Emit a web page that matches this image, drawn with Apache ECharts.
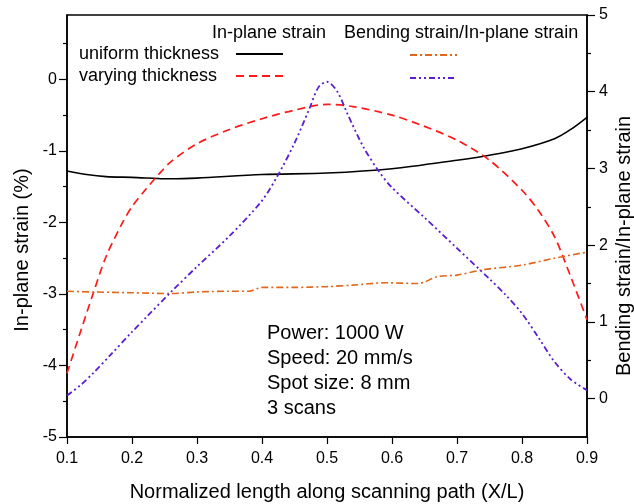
<!DOCTYPE html>
<html>
<head>
<meta charset="utf-8">
<title>In-plane strain and bending ratio along the scanning path</title>
<script src="https://cdn.jsdelivr.net/npm/echarts@6/dist/echarts.min.js"></script>
<style>
  html, body { margin: 0; padding: 0; background: #fff; }
  #chart { width: 634px; height: 504px; }
</style>
</head>
<body>
<div id="chart"></div>
<script>
// Tick positions for the three axes
const xTicks = [0.1, 0.2, 0.3, 0.4, 0.5, 0.6, 0.7, 0.8, 0.9];
const leftTicks = [-5, -4, -3, -2, -1, 0];
const leftMinorTicks = [-4.5, -3.5, -2.5, -1.5, -0.5, 0.5];
const rightTicks = [0, 1, 2, 3, 4, 5];
const rightMinorTicks = [0.5, 1.5, 2.5, 3.5, 4.5];

// In-plane strain (%), uniform thickness
const uniformX = [0.10, 0.13, 0.16, 0.20, 0.26, 0.30, 0.40, 0.50, 0.60, 0.70, 0.75, 0.80, 0.85, 0.875, 0.90];
const uniformY = [-1.28, -1.33, -1.36, -1.37, -1.39, -1.38, -1.33, -1.31, -1.25, -1.13, -1.06, -0.97, -0.83, -0.70, -0.53];

// In-plane strain (%), varying thickness
const varyingX = [0.10, 0.12, 0.14, 0.16, 0.185, 0.20, 0.22, 0.24, 0.26, 0.30, 0.35, 0.40, 0.45, 0.50, 0.54, 0.60, 0.645, 0.70, 0.75, 0.80, 0.825, 0.85, 0.875, 0.90];
const varyingY = [-4.11, -3.55, -3.00, -2.48, -2.01, -1.78, -1.55, -1.34, -1.15, -0.90, -0.70, -0.55, -0.43, -0.35, -0.38, -0.50, -0.64, -0.85, -1.13, -1.55, -1.83, -2.20, -2.76, -3.36];

// Bending strain / in-plane strain, uniform thickness
const ratioUniformX = [0.10, 0.14, 0.20, 0.26, 0.30, 0.35, 0.38, 0.40, 0.45, 0.50, 0.54, 0.59, 0.64, 0.67, 0.70, 0.74, 0.80, 0.85, 0.90];
const ratioUniformY = [1.40, 1.39, 1.38, 1.37, 1.39, 1.40, 1.40, 1.45, 1.45, 1.46, 1.48, 1.51, 1.50, 1.59, 1.61, 1.68, 1.74, 1.83, 1.91];

// Bending strain / in-plane strain, varying thickness
const ratioVaryingX = [0.10, 0.12, 0.14, 0.167, 0.20, 0.223, 0.26, 0.30, 0.35, 0.40, 0.425, 0.45, 0.472, 0.487, 0.50, 0.516, 0.531, 0.556, 0.58, 0.60, 0.65, 0.70, 0.75, 0.775, 0.80, 0.825, 0.85, 0.875, 0.90];
const ratioVaryingY = [0.04, 0.17, 0.33, 0.57, 0.87, 1.07, 1.39, 1.72, 2.12, 2.58, 2.92, 3.33, 3.76, 4.06, 4.13, 4.00, 3.72, 3.28, 2.96, 2.75, 2.36, 1.96, 1.56, 1.35, 1.11, 0.80, 0.48, 0.25, 0.11];

const conditions = ['Power: 1000 W', 'Speed: 20 mm/s', 'Spot size: 8 mm', '3 scans'];

const FONT = '"Liberation Sans", Arial, Helvetica, sans-serif';
const pairs = (xs, ys) => xs.map((x, i) => [x, ys[i]]);

const chart = echarts.init(document.getElementById('chart'), null, { renderer: 'canvas' });

const axisLine = { show: true, onZero: false, lineStyle: { color: '#000', width: 1.5 } };
// legend samples show the dashed line only, no marker
const legendSample = { itemWidth: 47, itemHeight: 14, padding: 0, selectedMode: false, itemStyle: { opacity: 0 } };

const option = {
  backgroundColor: '#fff',
  animation: false,
  textStyle: { fontFamily: FONT, color: '#000' },
  grid: {
    left: 67, right: 47, top: 15, bottom: 67,
    outerBoundsMode: 'none', containLabel: false,
    show: true, borderColor: '#000', borderWidth: 1.5, backgroundColor: 'transparent'
  },
  xAxis: {
    type: 'value', min: 0.1, max: 0.9,
    axisLine: axisLine,
    axisTick: { show: true, inside: false, length: 7, lineStyle: { color: '#000', width: 1.2 }, customValues: xTicks },
    axisLabel: {
      customValues: xTicks, margin: 14, fontSize: 16, color: '#000', fontFamily: FONT,
      formatter: v => v.toFixed(1)
    },
    splitLine: { show: false },
    name: 'Normalized length along scanning path (X/L)',
    nameLocation: 'middle', nameGap: 45,
    nameTextStyle: { fontSize: 20, color: '#000', fontFamily: FONT }
  },
  yAxis: [
    {
      type: 'value', position: 'left', min: -5, max: 0.9,
      axisLine: axisLine,
      axisTick: { show: true, inside: false, length: 8, lineStyle: { color: '#000', width: 1.2 }, customValues: leftTicks },
      axisLabel: { customValues: leftTicks, margin: 10, fontSize: 16, color: '#000', fontFamily: FONT },
      splitLine: { show: false }
    },
    {
      type: 'value', position: 'right', min: -0.5, max: 5,
      axisLine: axisLine,
      axisTick: { show: true, inside: false, length: 8, lineStyle: { color: '#000', width: 1.2 }, customValues: rightTicks },
      axisLabel: { customValues: rightTicks, margin: 12, fontSize: 16, color: '#000', fontFamily: FONT },
      splitLine: { show: false }
    },
    {
      // minor ticks on the left axis
      type: 'value', position: 'left', min: -5, max: 0.9,
      axisLine: { show: false, onZero: false },
      axisTick: { show: true, inside: false, length: 4, lineStyle: { color: '#000', width: 1.2 }, customValues: leftMinorTicks },
      axisLabel: { show: false },
      splitLine: { show: false }
    },
    {
      // minor ticks on the right axis
      type: 'value', position: 'right', min: -0.5, max: 5,
      axisLine: { show: false, onZero: false },
      axisTick: { show: true, inside: false, length: 4, lineStyle: { color: '#000', width: 1.2 }, customValues: rightMinorTicks },
      axisLabel: { show: false },
      splitLine: { show: false }
    }
  ],
  legend: [
    Object.assign({}, legendSample, {
      data: ['uniform thickness', 'varying thickness'],
      orient: 'vertical', align: 'right',
      left: 79, top: 45, itemGap: 4,
      formatter: name => '{a|' + name + '}',
      textStyle: {
        rich: { a: { width: 152, align: 'left', fontSize: 18, lineHeight: 20, color: '#000', fontFamily: FONT } }
      }
    }),
    Object.assign({}, legendSample, {
      data: ['ratio, uniform thickness'],
      left: 409, top: 48, formatter: () => ''
    }),
    Object.assign({}, legendSample, {
      data: ['ratio, varying thickness'],
      left: 409, top: 71, formatter: () => ''
    })
  ],
  graphic: [
    { type: 'text', left: 212, top: 24, style: { text: 'In-plane strain', font: '18px ' + FONT, fill: '#000' } },
    { type: 'text', left: 344, top: 24, style: { text: 'Bending strain/In-plane strain', font: '18px ' + FONT, fill: '#000' } },
    {
      type: 'text', left: 267, top: 321,
      style: { text: conditions.join('\n'), font: '20px ' + FONT, lineHeight: 25, fill: '#000' }
    },
    {
      type: 'text', x: 22, y: 250, rotation: Math.PI / 2,
      style: { text: 'In-plane strain (%)', font: '20px ' + FONT, fill: '#000', align: 'center', verticalAlign: 'middle' }
    },
    {
      type: 'text', x: 624, y: 246, rotation: Math.PI / 2,
      style: { text: 'Bending strain/In-plane strain', font: '20px ' + FONT, fill: '#000', align: 'center', verticalAlign: 'middle' }
    }
  ],
  series: [
    {
      name: 'uniform thickness', type: 'line', yAxisIndex: 0,
      data: pairs(uniformX, uniformY), symbol: 'none', smooth: 0.3,
      lineStyle: { color: '#000', width: 1.6 }, itemStyle: { color: '#000' }
    },
    {
      name: 'varying thickness', type: 'line', yAxisIndex: 0,
      data: pairs(varyingX, varyingY), symbol: 'none', smooth: 0.3,
      lineStyle: { color: '#ff1a1a', width: 1.7, type: [8, 5] }, itemStyle: { color: '#ff1a1a' }
    },
    {
      name: 'ratio, uniform thickness', type: 'line', yAxisIndex: 1,
      data: pairs(ratioUniformX, ratioUniformY), symbol: 'none', smooth: 0.3,
      lineStyle: { color: '#e0671c', width: 1.6, type: [7, 3, 2, 3] }, itemStyle: { color: '#e0671c' }
    },
    {
      name: 'ratio, varying thickness', type: 'line', yAxisIndex: 1,
      data: pairs(ratioVaryingX, ratioVaryingY), symbol: 'none', smooth: 0.3,
      lineStyle: { color: '#5a1ecf', width: 1.8, type: [6, 3, 2, 3, 2, 3] }, itemStyle: { color: '#5a1ecf' }
    }
  ]
};

chart.setOption(option);
</script>
</body>
</html>
